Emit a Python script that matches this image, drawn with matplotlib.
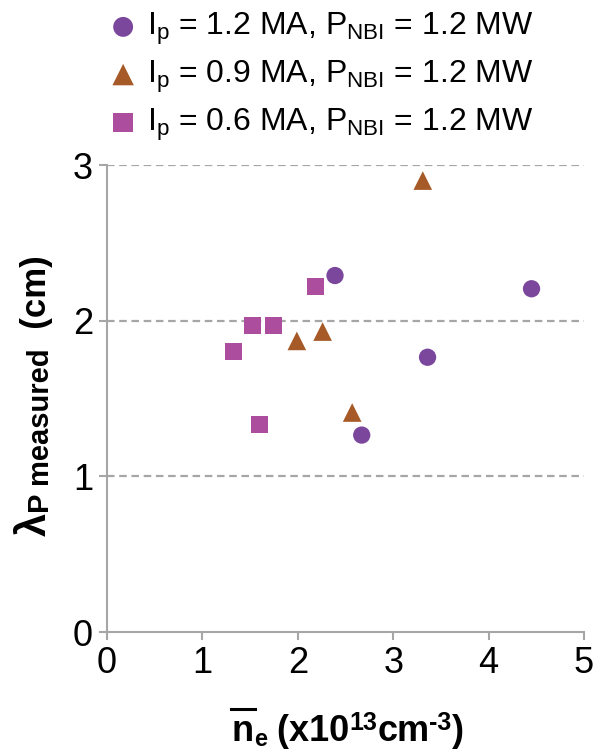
import matplotlib
matplotlib.use('Agg')
import matplotlib.pyplot as plt
from matplotlib.transforms import IdentityTransform
from matplotlib.lines import Line2D

plt.rcParams['font.family'] = ['Liberation Sans', 'DejaVu Sans']
plt.rcParams['mathtext.fontset'] = 'custom'
plt.rcParams['mathtext.rm'] = 'Liberation Sans'
plt.rcParams['mathtext.it'] = 'Liberation Sans:italic'
plt.rcParams['mathtext.bf'] = 'Liberation Sans:bold'

# line-averaged density (x1e13 cm^-3) and measured lambda_P (cm)
ne_12 = [2.39, 4.45, 3.36, 2.67]
lam_12 = [2.29, 2.205, 1.765, 1.265]
ne_09 = [3.31, 1.99, 2.26, 2.57]
lam_09 = [2.90, 1.87, 1.93, 1.41]
ne_06 = [2.19, 1.52, 1.75, 1.33, 1.60]
lam_06 = [2.22, 1.97, 1.97, 1.80, 1.33]

labels = [r'I$_\mathrm{p}$ = 1.2 MA, P$_\mathrm{NBI}$ = 1.2 MW',
          r'I$_\mathrm{p}$ = 0.9 MA, P$_\mathrm{NBI}$ = 1.2 MW',
          r'I$_\mathrm{p}$ = 0.6 MA, P$_\mathrm{NBI}$ = 1.2 MW']
xticks = [0, 1, 2, 3, 4, 5]
yticks = [0, 1, 2, 3]

grey = '#A6A6A6'
W, H = 594, 752

fig = plt.figure(figsize=(W / 100, H / 100), dpi=100)
ax = fig.add_axes([107/W, 1-632/H, 477/W, 467/H])

ax.scatter(ne_12, lam_12, marker='o', s=155, color='#7B479D', edgecolors='none', label=labels[0], zorder=3)
ax.scatter(ne_09, lam_09, marker='^', s=180, color='#A65A27', edgecolors='none', label=labels[1], zorder=3)
ax.scatter(ne_06, lam_06, marker='s', s=150, color='#AC4E9D', edgecolors='none', label=labels[2], zorder=3)

ax.set_xlim(0, 5)
ax.set_ylim(0, 3)
ax.set_xticks(xticks)
ax.set_yticks(yticks)
for y in yticks[1:]:
    ax.axhline(y, color=grey, lw=1.6, ls=(0, (3.4, 2.1)), zorder=1)

for s in ['top', 'right']:
    ax.spines[s].set_visible(False)
for s in ['left', 'bottom']:
    ax.spines[s].set_color(grey)
    ax.spines[s].set_linewidth(1.5)
ax.tick_params(direction='out', length=6, width=1.5, color=grey, labelsize=26, pad=4)

fig.legend(loc='upper left', bbox_to_anchor=(88/W, 1.0 + 8/H), frameon=False, fontsize=23,
           handletextpad=0.25, labelspacing=0.36, borderaxespad=0.2, handlelength=1.0,
           markerscale=1.15)

# axis titles laid out piece by piece so sub/superscripts keep their own sizes
px = IdentityTransform()
renderer = fig.canvas.get_renderer()


def put_runs(x, y, pieces, rotation=0):
    """pieces: (text, size, offset) with offset perpendicular to the baseline, in px"""
    placed = []
    for txt, size, off in pieces:
        if rotation:
            t = fig.text(x + off, y, txt, fontsize=size, fontweight='bold', rotation=90,
                         rotation_mode='anchor', ha='left', va='baseline', transform=px)
            bb = t.get_window_extent(renderer)
            y += bb.height
        else:
            t = fig.text(x, y + off, txt, fontsize=size, fontweight='bold',
                         ha='left', va='baseline', transform=px)
            bb = t.get_window_extent(renderer)
            x += bb.width
        placed.append(t)
    return placed


xl = put_runs(232, H - 741, [('n', 26, 0), ('e', 17, -5), (' (x10', 26, 0), ('13', 18, 11),
                             ('cm', 26, 0), ('-3', 18, 11), (')', 26, 0)])
nb = xl[0].get_window_extent(renderer)
fig.add_artist(Line2D([nb.x0 - 1, nb.x1 + 1], [H - 709, H - 709], color='black', lw=2.2, transform=px))

put_runs(46, H - 536, [('λ', 30, 0), ('P measured', 21, 3), ('  (cm)', 25, 0)], rotation=90)

fig.savefig('out.png', dpi=100)
